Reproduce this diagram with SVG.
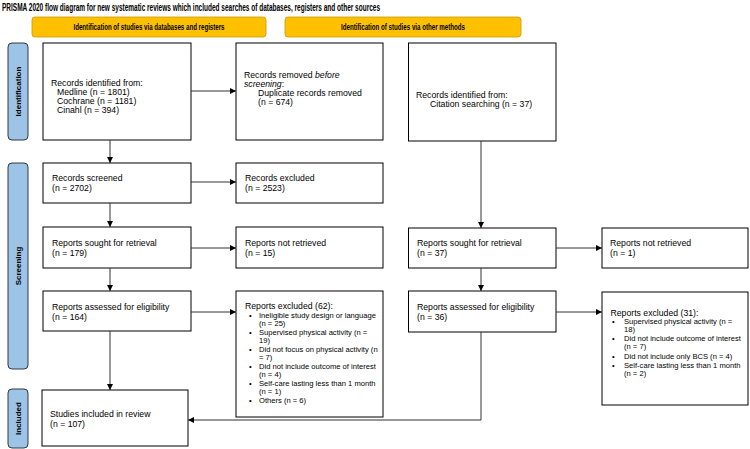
<svg xmlns="http://www.w3.org/2000/svg" width="750" height="449" viewBox="0 0 750 449">
<defs>
<marker id="ah" markerUnits="userSpaceOnUse" markerWidth="6" markerHeight="6" refX="6" refY="3" orient="auto">
<path d="M0,0 L6,3 L0,6 z" fill="#000"/>
</marker>
<style>
.box{fill:#fff;stroke:#000;stroke-width:1}
.side{fill:#9DC3E6;stroke:#2E3A46;stroke-width:1}
.banner{fill:#FFC000;stroke:#C99A00;stroke-width:0.8}
.t{font-family:"Liberation Sans",Arial,sans-serif;font-size:8.7px;fill:#000}
.s{font-family:"Liberation Sans",Arial,sans-serif;font-size:7.6px;fill:#000}
.lab{font-family:"Liberation Sans",Arial,sans-serif;font-size:8px;font-weight:bold;fill:#000}
.bt{font-family:"Liberation Sans",Arial,sans-serif;font-size:8.5px;font-weight:bold;fill:#000}
.conn{stroke:#333;stroke-width:1;fill:none}
</style>
</defs>
<rect width="750" height="449" fill="#fff"/>
<text x="2" y="11" font-family="Liberation Sans, Arial, sans-serif" font-size="10.5" font-weight="bold" textLength="378" lengthAdjust="spacingAndGlyphs">PRISMA 2020 flow diagram for new systematic reviews which included searches of databases, registers and other sources</text>

<g id="banner-db">
<rect class="banner" x="32" y="17" width="234" height="20" rx="3"/>
<text class="bt" x="149" y="30" text-anchor="middle" textLength="151" lengthAdjust="spacingAndGlyphs">Identification of studies via databases and registers</text>
</g>
<g id="banner-other">
<rect class="banner" x="285" y="17" width="236" height="20" rx="3"/>
<text class="bt" x="403" y="30" text-anchor="middle" textLength="124" lengthAdjust="spacingAndGlyphs">Identification of studies via other methods</text>
</g>

<g id="side-identification">
<rect class="side" x="8" y="43" width="20" height="97" rx="4"/>
<text class="lab" transform="translate(21,91.5) rotate(-90)" text-anchor="middle">Identification</text>
</g>
<g id="side-screening">
<rect class="side" x="8" y="163" width="20" height="206" rx="4"/>
<text class="lab" transform="translate(21,266) rotate(-90)" text-anchor="middle">Screening</text>
</g>
<g id="side-included">
<rect class="side" x="8" y="389" width="20" height="59" rx="4"/>
<text class="lab" transform="translate(21,418.5) rotate(-90)" text-anchor="middle">Included</text>
</g>

<g id="records-identified">
<rect class="box" x="43" y="43" width="148" height="97"/>
<text class="t" x="51" y="85.5">Records identified from:</text>
<text class="t" x="57" y="94.5">Medline (n = 1801)</text>
<text class="t" x="57" y="103.5">Cochrane (n = 1181)</text>
<text class="t" x="57" y="112.5">Cinahl (n = 394)</text>
</g>
<g id="records-removed">
<rect class="box" x="236" y="43" width="147" height="97"/>
<text class="t" x="244" y="78">Records removed <tspan font-style="italic">before</tspan></text>
<text class="t" x="244" y="87" font-style="italic">screening<tspan font-style="normal">:</tspan></text>
<text class="t" x="258" y="96">Duplicate records removed</text>
<text class="t" x="258" y="105">(n = 674)</text>
</g>
<g id="citation-identified">
<rect class="box" x="408.5" y="43" width="147.5" height="98"/>
<text class="t" x="416" y="98">Records identified from:</text>
<text class="t" x="430" y="107">Citation searching (n = 37)</text>
</g>

<g id="records-screened">
<rect class="box" x="43" y="163" width="148" height="40"/>
<text class="t" x="52" y="181">Records screened</text>
<text class="t" x="52" y="191">(n = 2702)</text>
</g>
<g id="records-excluded">
<rect class="box" x="236" y="163" width="147" height="40"/>
<text class="t" x="245" y="181">Records excluded</text>
<text class="t" x="245" y="191">(n = 2523)</text>
</g>

<g id="sought-db">
<rect class="box" x="43" y="227" width="148" height="41"/>
<text class="t" x="52" y="246">Reports sought for retrieval</text>
<text class="t" x="52" y="256">(n = 179)</text>
</g>
<g id="not-retrieved-db">
<rect class="box" x="236" y="227" width="147" height="41"/>
<text class="t" x="245" y="246">Reports not retrieved</text>
<text class="t" x="245" y="256">(n = 15)</text>
</g>
<g id="sought-other">
<rect class="box" x="408.5" y="228" width="147.5" height="40"/>
<text class="t" x="417" y="246">Reports sought for retrieval</text>
<text class="t" x="417" y="256">(n = 37)</text>
</g>
<g id="not-retrieved-other">
<rect class="box" x="602" y="228" width="146" height="40"/>
<text class="t" x="610" y="246">Reports not retrieved</text>
<text class="t" x="610" y="256">(n = 1)</text>
</g>

<g id="assessed-db">
<rect class="box" x="43" y="291" width="148" height="40"/>
<text class="t" x="52" y="309.5">Reports assessed for eligibility</text>
<text class="t" x="52" y="319.5">(n = 164)</text>
</g>
<g id="excluded-db">
<rect class="box" x="236" y="291" width="147" height="126"/>
<text class="t" x="245" y="308.5">Reports excluded (62):</text>
<g class="s">
<text x="249" y="317.5">•</text><text x="259" y="317.5">Ineligible study design or language</text>
<text x="259" y="326">(n = 25)</text>
<text x="249" y="334.5">•</text><text x="259" y="334.5">Supervised physical activity (n =</text>
<text x="259" y="343">19)</text>
<text x="249" y="351.5">•</text><text x="259" y="351.5">Did not focus on physical activity (n</text>
<text x="259" y="360">= 7)</text>
<text x="249" y="368.5">•</text><text x="259" y="368.5">Did not include outcome of interest</text>
<text x="259" y="377">(n = 4)</text>
<text x="249" y="385.5">•</text><text x="259" y="385.5">Self-care lasting less than 1 month</text>
<text x="259" y="394">(n = 1)</text>
<text x="249" y="402.5">•</text><text x="259" y="402.5">Others (n = 6)</text>
</g>
</g>
<g id="assessed-other">
<rect class="box" x="408.5" y="291" width="147.5" height="41"/>
<text class="t" x="417" y="309.5">Reports assessed for eligibility</text>
<text class="t" x="417" y="319.5">(n = 36)</text>
</g>
<g id="excluded-other">
<rect class="box" x="602" y="292" width="146" height="113"/>
<text class="t" x="610.5" y="315.5">Reports excluded (31):</text>
<g class="s">
<text x="612" y="324">•</text><text x="624" y="324">Supervised physical activity (n =</text>
<text x="624" y="332">18)</text>
<text x="612" y="341">•</text><text x="624" y="341">Did not include outcome of interest</text>
<text x="624" y="349">(n = 7)</text>
<text x="612" y="358.5">•</text><text x="624" y="358.5">Did not include only BCS (n = 4)</text>
<text x="612" y="368">•</text><text x="624" y="368">Self-care lasting less than 1 month</text>
<text x="624" y="376">(n = 2)</text>
</g>
</g>

<g id="included">
<rect class="box" x="42" y="390" width="146" height="56"/>
<text class="t" x="50" y="416.5">Studies included in review</text>
<text class="t" x="50" y="427">(n = 107)</text>
</g>

<g id="connectors" class="conn">
<line x1="191" y1="91" x2="236" y2="91" marker-end="url(#ah)"/>
<line x1="110" y1="140" x2="110" y2="163" marker-end="url(#ah)"/>
<line x1="191" y1="182" x2="236" y2="182" marker-end="url(#ah)"/>
<line x1="110" y1="203" x2="110" y2="227" marker-end="url(#ah)"/>
<line x1="191" y1="248" x2="236" y2="248" marker-end="url(#ah)"/>
<line x1="110" y1="268" x2="110" y2="291" marker-end="url(#ah)"/>
<line x1="191" y1="312" x2="236" y2="312" marker-end="url(#ah)"/>
<line x1="110" y1="331" x2="110" y2="390" marker-end="url(#ah)"/>
<line x1="481" y1="141" x2="481" y2="228" marker-end="url(#ah)"/>
<line x1="556" y1="248" x2="602" y2="248" marker-end="url(#ah)"/>
<line x1="481" y1="268" x2="481" y2="291" marker-end="url(#ah)"/>
<line x1="556" y1="312" x2="602" y2="312" marker-end="url(#ah)"/>
<polyline points="481,332 481,420 188,420" marker-end="url(#ah)"/>
</g>
</svg>
